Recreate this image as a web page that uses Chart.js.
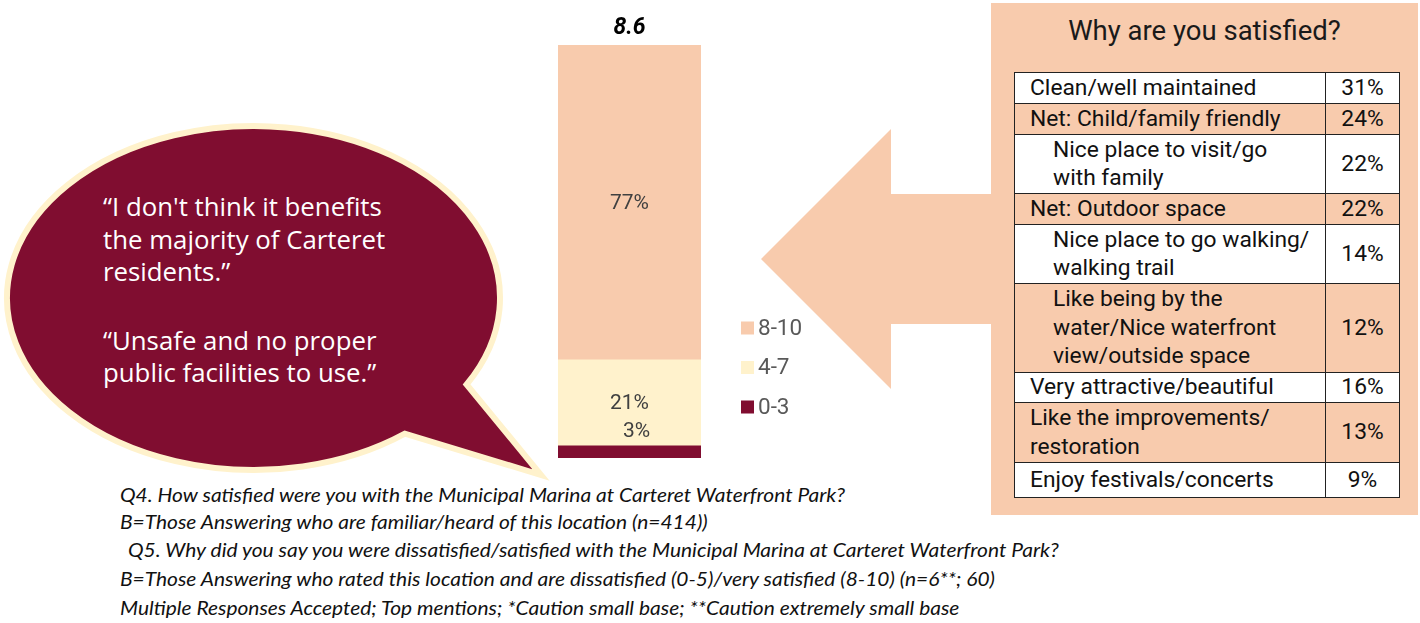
<!DOCTYPE html>
<html>
<head>
<meta charset="utf-8">
<script src="https://cdn.jsdelivr.net/npm/chart.js@4.4.1/dist/chart.umd.min.js"></script>
<style>
  body { margin: 0; width: 1420px; height: 623px; position: relative; overflow: hidden; background: #fff; font-family: Roboto, "Open Sans", sans-serif; }
  #shapes { position: absolute; left: 0; top: 0; }
  #quotes { position: absolute; left: 103px; top: 190px; color: #fff; font-family: "Open Sans", Roboto, sans-serif; font-size: 25.8px; line-height: 32.5px; white-space: nowrap; }
  #quotes p { margin: 0 0 36px 0; }
  #chartWrap { position: absolute; left: 540px; top: 0; width: 280px; height: 470px; }
  #reasonBox { position: absolute; left: 991px; top: 3px; width: 427px; height: 512px; background: #F8CBAD; }
  #reasonTitle { position: absolute; left: 0; width: 427px; top: 11px; text-align: center; font-size: 27.5px; color: #1a1a1a; }
  #reasonTable { position: absolute; left: 23px; top: 69px; width: 386px; border-collapse: collapse; font-size: 22.8px; color: #111; }
  #reasonTable td { border: 1.5px solid #222; padding: 0; line-height: 28.5px; }
  #reasonTable td.val { text-align: center; width: 73px; }
  .note { position: absolute; font-family: Lato, "Open Sans", sans-serif; font-style: italic; font-size: 19px; color: #111; white-space: nowrap; transform-origin: left center; line-height: 20px; }
</style>
</head>
<body>
<svg id="shapes" width="1420" height="623"></svg>
<div id="quotes"></div>
<div id="chartWrap"><canvas id="barChart" width="280" height="470"></canvas></div>
<div id="reasonBox">
  <div id="reasonTitle">Why are you satisfied?</div>
  <table id="reasonTable"><tbody id="reasonBody"></tbody></table>
</div>
<div id="notes"></div>

<script>
    // Satisfaction rating bands (Q4)
    const bandLabels = ['0-3', '4-7', '8-10'];
    const bandValues = [3, 21, 77];
    const bandColors = ['#800D30', '#FFF2CC', '#F8CBAD'];
    const meanScore = 8.6;

    // Why are you satisfied? (Q5)
    const reasons = [
      'Clean/well maintained',
      'Net: Child/family friendly',
      'Nice place to visit/go with family',
      'Net: Outdoor space',
      'Nice place to go walking/ walking trail',
      'Like being by the water/Nice waterfront view/outside space',
      'Very attractive/beautiful',
      'Like the improvements/ restoration',
      'Enjoy festivals/concerts'
    ];
    const reasonValues = [31, 24, 22, 22, 14, 12, 16, 13, 9];
    const reasonIndent = [0, 0, 1, 0, 1, 1, 0, 0, 0];

    const quotes = [
      '“I don\'t think it benefits the majority of Carteret residents.”',
      '“Unsafe and no proper public facilities to use.”'
    ];

    const notes = [
      'Q4. How satisfied were you with the Municipal Marina at Carteret Waterfront Park?',
      'B=Those Answering who are familiar/heard of this location (n=414))',
      'Q5. Why did you say you were dissatisfied/satisfied with the Municipal Marina at Carteret Waterfront Park?',
      'B=Those Answering who rated this location and are dissatisfied (0-5)/very satisfied (8-10) (n=6**; 60)',
      'Multiple Responses Accepted; Top mentions; *Caution small base; **Caution extremely small base'
    ];

    // Speech bubble + arrow
    const svg = document.getElementById('shapes');
    const cx = 253.5, cy = 298, rx = 246.5, ry = 172;
    function onEllipse(x, y) {
      const a = Math.atan2((y - cy) / ry, (x - cx) / rx);
      return [cx + rx * Math.cos(a), cy + ry * Math.sin(a)];
    }
    const pA = onEllipse(463, 383);
    const pB = onEllipse(403, 432);
    const bubblePath = `M${pA[0]},${pA[1]} A${rx},${ry} 0 1 0 ${pB[0]},${pB[1]} L541,475 Z`;
    svg.innerHTML = `
      <polygon points="761,259 891,129 891,194 995,194 995,324 891,324 891,389" fill="#F8CBAD"/>
      <path d="${bubblePath}" fill="#800D30" stroke="#FFF2CC" stroke-width="6" stroke-linejoin="miter"/>
    `;

    document.getElementById('quotes').innerHTML = quotes.map(q => `<p>${q.replace('benefits ', 'benefits<br>').replace('Carteret ', 'Carteret<br>').replace('proper ', 'proper<br>')}</p>`).join('');

    // Reasons table
    const rowHeights = [31, 31, 59, 31, 59, 89, 30, 60, 35];
    const wrapAt = { 2: 'visit/go ', 4: 'walking/ ', 5: ['the ', 'waterfront '], 7: 'improvements/ ' };
    const tbody = document.getElementById('reasonBody');
    reasons.forEach((r, i) => {
      let text = r;
      const w = wrapAt[i];
      if (w) (Array.isArray(w) ? w : [w]).forEach(s => { text = text.replace(s, s.trim() + '<br>'); });
      const tr = document.createElement('tr');
      tr.style.height = rowHeights[i] + 'px';
      tr.style.background = i % 2 ? '#F8CBAD' : '#fff';
      tr.innerHTML = `
        <td style="padding-left:${reasonIndent[i] ? 38 : 15}px">${text}</td>
        <td class="val">${reasonValues[i]}%</td>
      `;
      tbody.appendChild(tr);
    });

    // Footnotes
    const noteLeft = [120, 120, 128, 120, 120];
    const noteTop = [495, 522, 550, 579, 608];
    const notesDiv = document.getElementById('notes');
    const noteEls = notes.map((n, i) => {
      const d = document.createElement('div');
      d.className = 'note';
      d.textContent = n;
      d.style.left = noteLeft[i] + 'px';
      d.style.top = (noteTop[i] - 10) + 'px';
      notesDiv.appendChild(d);
      return d;
    });
    const noteScale = 725 / noteEls[0].getBoundingClientRect().width;
    noteEls.forEach(d => d.style.transform = `scaleX(${noteScale})`);

    // Bar chart
    const barLabelsPlugin = {
      id: 'barLabels',
      afterDatasetsDraw(chart) {
        const ctx = chart.ctx;
        const area = chart.chartArea;
        ctx.save();
        ctx.textAlign = 'center';
        ctx.textBaseline = 'middle';

        chart.data.datasets.forEach((ds, i) => {
          const el = chart.getDatasetMeta(i).data[0];
          ctx.font = '21px Roboto';
          ctx.fillStyle = '#404040';
          if (ds.data[0] < 5) {
            ctx.fillText(ds.data[0] + '%', el.x + 7, el.y - 14);
          } else {
            ctx.fillText(ds.data[0] + '%', el.x, (el.y + el.base) / 2 + 1);
          }
        });

        // mean score above bar
        ctx.font = 'italic bold 23px Roboto';
        ctx.fillStyle = '#000';
        ctx.fillText(meanScore.toFixed(1), (area.left + area.right) / 2, area.top - 17);

        // legend, top item first
        ctx.textAlign = 'left';
        ctx.font = '22.5px Roboto';
        const n = chart.data.datasets.length;
        for (let k = 0; k < n; k++) {
          const ds = chart.data.datasets[n - 1 - k];
          const y = area.bottom - 130 + k * 39.5;
          ctx.fillStyle = ds.backgroundColor;
          ctx.fillRect(area.right + 40, y - 6.5, 13, 13);
          ctx.fillStyle = '#595959';
          ctx.fillText(ds.label, area.right + 57, y + 1);
        }
        ctx.restore();
      }
    };

    new Chart(document.getElementById('barChart'), {
      type: 'bar',
      data: {
        labels: ['Q4'],
        datasets: bandLabels.map((l, i) => ({
          label: l,
          data: [bandValues[i]],
          backgroundColor: bandColors[i],
          barPercentage: 1,
          categoryPercentage: 1
        }))
      },
      options: {
        responsive: false,
        animation: false,
        layout: { padding: { left: 18, right: 119, top: 45, bottom: 12 } },
        scales: {
          x: { display: false, stacked: true },
          y: { display: false, stacked: true, min: 0, max: 101 }
        },
        plugins: { legend: { display: false }, tooltip: { enabled: false } }
      },
      plugins: [barLabelsPlugin]
    });
</script>
</body>
</html>
